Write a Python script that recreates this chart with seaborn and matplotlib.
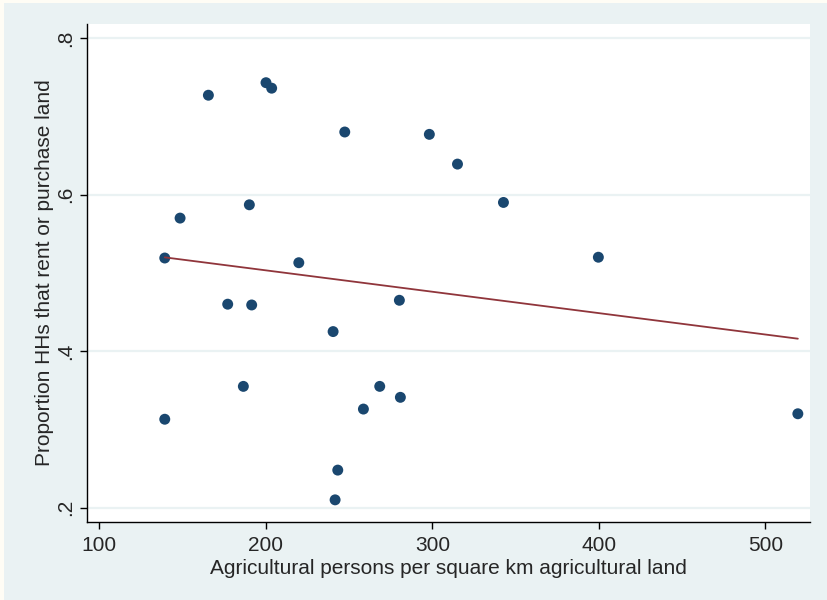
import matplotlib
matplotlib.use("Agg")
import matplotlib.pyplot as plt
import seaborn as sns
import pandas as pd
from matplotlib.patches import Rectangle

density = [165.5, 200.1, 203.5, 247.4, 298.2, 315.1, 342.7, 190.1, 148.5,
           399.7, 139.3, 219.8, 280.2, 177.1, 191.5, 240.4, 186.5, 268.4,
           280.8, 258.6, 519.5, 139.3, 243.2, 241.6]
proportion = [0.727, 0.743, 0.736, 0.680, 0.677, 0.639, 0.590, 0.587, 0.570,
              0.520, 0.519, 0.513, 0.465, 0.460, 0.459, 0.425, 0.355, 0.355,
              0.341, 0.326, 0.320, 0.313, 0.248, 0.210]
xticks = [100, 200, 300, 400, 500]
yticks = [0.2, 0.4, 0.6, 0.8]
ytick_labels = [".2", ".4", ".6", ".8"]

df = pd.DataFrame({"density": density, "proportion": proportion})

sns.set_style("white")
plt.rcParams['font.family'] = ['Liberation Sans', 'DejaVu Sans']

bg = "#eaf2f3"
fig = plt.figure(figsize=(8.27, 6.0), dpi=100)
fig.patch.set_facecolor("#fffdf5")
fig.patches.append(Rectangle((4 / 827, 0), 1, 597 / 600, transform=fig.transFigure,
                             facecolor=bg, edgecolor="none", zorder=-10))

ax = fig.add_axes([86.5 / 827, (600 - 522) / 600, (810 - 86.5) / 827, (522 - 24) / 600])
ax.set_zorder(5)
ax.set_facecolor("white")

for yv in yticks:
    ax.axhline(yv, color=bg, lw=1.6, zorder=1)

sns.scatterplot(data=df, x="density", y="proportion", ax=ax, color="#1a476f",
                s=62, edgecolor="none", zorder=3, legend=False)
sns.regplot(data=df, x="density", y="proportion", ax=ax, scatter=False, ci=None,
            line_kws={"color": "#90353b", "lw": 1.3, "zorder": 4})

ax.set_xlim(92.3, 526.8)
ax.set_ylim(0.1817, 0.818)
ax.set_xticks(xticks)
ax.set_xticklabels([str(v) for v in xticks], fontsize=15)
ax.set_yticks(yticks)
ax.set_yticklabels(ytick_labels, fontsize=15, rotation=90, va="center")
ax.tick_params(axis="both", direction="out", length=5, width=1, color="black",
               left=True, bottom=True)
ax.tick_params(axis="x", pad=5)
ax.tick_params(axis="y", pad=3)

for side in ["top", "right"]:
    ax.spines[side].set_visible(False)
for side in ["left", "bottom"]:
    ax.spines[side].set_color("black")
    ax.spines[side].set_linewidth(1)

ax.set_xlabel("Agricultural persons per square km agricultural land", fontsize=15, labelpad=3)
ax.set_ylabel("Proportion HHs that rent or purchase land", fontsize=15, labelpad=2)

fig.savefig("out.png", dpi=100, facecolor=fig.get_facecolor())
